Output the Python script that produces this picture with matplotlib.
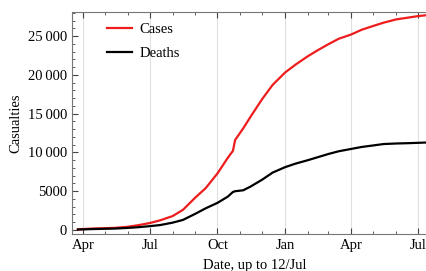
import datetime as dt
import matplotlib
matplotlib.use("Agg")
import matplotlib.pyplot as plt
import matplotlib.dates as mdates
from matplotlib.ticker import FuncFormatter, MultipleLocator

# cumulative counts
dates = ["2014-03-25", "2014-04-15", "2014-05-01", "2014-05-15", "2014-06-01",
         "2014-06-15", "2014-07-01", "2014-07-15", "2014-08-01", "2014-08-15",
         "2014-09-01", "2014-09-15", "2014-10-01", "2014-10-15", "2014-10-22",
         "2014-10-25", "2014-11-05", "2014-11-15", "2014-12-01", "2014-12-15",
         "2015-01-01", "2015-01-15", "2015-02-01", "2015-02-15", "2015-03-01",
         "2015-03-15", "2015-04-01", "2015-04-15", "2015-05-01", "2015-05-15",
         "2015-06-01", "2015-06-15", "2015-07-01", "2015-07-12"]
cases = [86, 197, 239, 280, 420, 620, 900, 1250, 1800, 2600,
         4200, 5400, 7300, 9300, 10200, 11600, 13100, 14600, 16900, 18700,
         20300, 21300, 22400, 23200, 23950, 24650, 25200, 25800, 26300, 26720,
         27140, 27340, 27570, 27678]
deaths = [59, 122, 160, 190, 270, 360, 500, 640, 950, 1300,
          2100, 2800, 3500, 4300, 4900, 5000, 5120, 5600, 6500, 7400,
          8100, 8550, 9000, 9400, 9800, 10150, 10450, 10700, 10900, 11080,
          11150, 11185, 11236, 11276]

x = [dt.datetime.strptime(d, "%Y-%m-%d") for d in dates]

plt.rcParams['font.family'] = ['Liberation Serif', 'DejaVu Serif']
fig = plt.figure(figsize=(4.26, 2.71), dpi=100)
ax = fig.add_axes([0.169, 0.1365, 0.859, 0.819])

ax.plot(x, cases, color='#ee1c1c', lw=1.6, label='Cases')
ax.plot(x, deaths, color='black', lw=1.6, label='Deaths')

ax.set_xlim(dt.datetime(2014, 3, 17), dt.datetime(2015, 7, 28))
ax.set_ylim(-515, 28090)

ax.xaxis.set_major_locator(mdates.MonthLocator(bymonth=[1, 4, 7, 10]))
ax.xaxis.set_major_formatter(mdates.DateFormatter('%b'))
ax.xaxis.set_minor_locator(mdates.MonthLocator())
ax.yaxis.set_major_locator(MultipleLocator(5000))
ax.yaxis.set_minor_locator(MultipleLocator(1000))

def fmt(v, pos):
    v = int(round(v))
    if v >= 10000:
        s = str(v)
        return s[:-3] + "\u2009" + s[-3:]
    return str(v)
ax.yaxis.set_major_formatter(FuncFormatter(fmt))

ax.tick_params(which='both', direction='in', top=True, right=True,
               labelsize=10.5, colors='#444444', labelcolor='black')
ax.tick_params(which='major', length=4)
ax.tick_params(which='minor', length=2)
for s in ax.spines.values():
    s.set_color('#777777')

ax.grid(axis='x', which='major', color='#e0e0e0', lw=0.8)

ax.set_xlabel('Date, up to 12/Jul', fontsize=10.5, labelpad=5)
ax.set_ylabel('Casualties', fontsize=10.5, labelpad=4)

ax.legend(loc='upper left', bbox_to_anchor=(0.06, 1.01), frameon=False,
          fontsize=10.5, handlelength=1.7, handletextpad=0.5,
          labelspacing=0.75)

fig.savefig('out.png', dpi=100)
